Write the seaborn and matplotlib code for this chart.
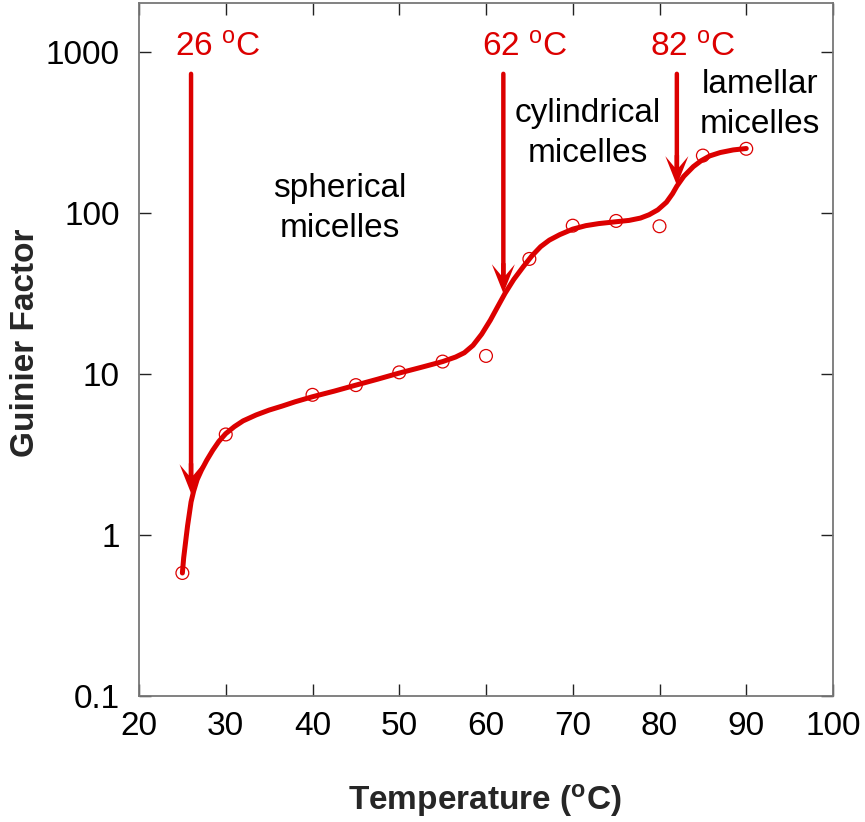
import matplotlib
matplotlib.use("Agg")
import matplotlib.pyplot as plt
import matplotlib.ticker as mticker
import matplotlib.transforms as mtransforms
from matplotlib.patches import FancyArrow
import seaborn as sns

# ---- data ----
temp_points = [25, 30, 40, 45, 50, 55, 60, 65, 70, 75, 80, 85, 90]
guinier_points = [0.58, 4.2, 7.4, 8.5, 10.2, 11.9, 12.9, 51.6, 83, 88.8, 82.3, 226, 249]

curve_temp = [25.0, 25.15, 25.3, 25.45, 25.6, 25.8, 26.0, 26.3, 26.7, 27.2, 27.8, 28.5,
              29.2, 30.0, 31.0, 32.0, 33.5, 35.0, 36.5, 38.0, 40.0, 42.5, 45.0, 47.5,
              50.0, 52.5, 55.0, 56.5, 57.5, 58.5, 59.5, 60.5, 61.3, 62.2, 63.2, 64.3,
              65.3, 66.3, 67.3, 68.5, 70.0, 71.5, 73.0, 75.0, 76.5, 77.8, 78.8, 79.8,
              80.8, 81.5, 82.0, 82.8, 83.9, 84.8, 85.8, 87.0, 88.5, 90.0]
curve_guinier = [0.58, 0.72, 0.84, 0.98, 1.14, 1.35, 1.6, 1.87, 2.2, 2.52, 2.9, 3.35,
                 3.8, 4.25, 4.7, 5.1, 5.55, 5.95, 6.3, 6.7, 7.2, 7.8, 8.5, 9.25,
                 10.1, 10.95, 11.9, 12.7, 13.5, 15.0, 17.6, 21.5, 25.8, 31.6, 38.5, 46.2,
                 54, 61.5, 67.5, 73, 79, 83, 85.5, 87.8, 89.5, 92.5, 97, 104,
                 116, 131, 146, 168, 193, 210, 225, 236, 245, 250]

transition_temps = [26, 62, 82]
transition_tips = [1.81, 31.6, 148]
transition_labels = ["26 $^{\\rm o}$C", "62 $^{\\rm o}$C", "82 $^{\\rm o}$C"]
label_x = [29.05, 64.46, 83.84]

x_ticks = [20, 30, 40, 50, 60, 70, 80, 90, 100]
y_ticks = [0.1, 1, 10, 100, 1000]
y_tick_labels = ["0.1", "1", "10", "100", "1000"]

phase_labels = [("spherical", "micelles"), ("cylindrical", "micelles"), ("lamellar", "micelles")]
phase_x = [43.2, 71.7, 91.6]
phase_y1 = [125.7, 367, 552]
phase_y2 = [70.9, 205.6, 311]

# ---- style ----
sns.set_theme(style="ticks")
plt.rcParams["font.family"] = ["Liberation Sans", "DejaVu Sans"]
plt.rcParams["mathtext.fontset"] = "custom"
plt.rcParams["mathtext.rm"] = "Liberation Sans"
plt.rcParams["mathtext.it"] = "Liberation Sans:italic"
plt.rcParams["mathtext.bf"] = "Liberation Sans:bold"

RED = "#DC0000"

fig = plt.figure(figsize=(8.65, 8.22), dpi=100)
ax = fig.add_axes([139 / 865, 126 / 822, 694 / 865, 693 / 822])

sns.lineplot(x=curve_temp, y=curve_guinier, sort=False, color=RED, linewidth=3.6,
             ax=ax, zorder=3)
sns.scatterplot(x=temp_points, y=guinier_points, marker="o", s=85,
                facecolor="none", edgecolor=RED, linewidth=0.9, ax=ax, zorder=4)

ax.set_yscale("log")
ax.set_xlim(20, 100)
ax.set_ylim(0.1, 2000)
ax.set_xticks(x_ticks)
ax.set_xticklabels([str(v) for v in x_ticks])
ax.set_yticks(y_ticks)
ax.set_yticklabels(y_tick_labels)
ax.yaxis.set_minor_locator(mticker.NullLocator())
ax.xaxis.set_minor_locator(mticker.NullLocator())

ax.tick_params(axis="both", which="major", direction="in", length=8.6, width=1.0,
               color="#222222", labelsize=24, top=True, right=True,
               labelcolor="black")
ax.tick_params(axis="y", pad=14)
ax.tick_params(axis="x", pad=11)
for sp in ax.spines.values():
    sp.set_color("#777777")
    sp.set_linewidth(1.3)
ax.set_xlabel("")
ax.set_ylabel("")

# arrows marking the transition temperatures
arrow_top = 727
for t, tip in zip(transition_temps, transition_tips):
    # shaft
    ax.annotate("", xy=(t, tip), xytext=(t, arrow_top),
                arrowprops=dict(arrowstyle="-", color=RED, lw=3.2,
                                shrinkA=0, shrinkB=12),
                zorder=5)
    # notched (swept-back) head anchored at the tip, sized in inches
    anchor = fig.dpi_scale_trans + mtransforms.ScaledTranslation(t, tip, ax.transData)
    head = FancyArrow(0, 0.30, 0, -0.30, width=0.045, head_width=0.23,
                      head_length=0.29, overhang=0.38, length_includes_head=True,
                      color=RED, lw=0, transform=anchor, zorder=5)
    ax.add_patch(head)

for lx, lab in zip(label_x, transition_labels):
    ax.text(lx, 927, lab, color=RED, fontsize=24, ha="center", va="baseline")

# phase labels
for (l1, l2), px, py1, py2 in zip(phase_labels, phase_x, phase_y1, phase_y2):
    ax.text(px, py1, l1, fontsize=24, ha="center", va="baseline", color="black")
    ax.text(px, py2, l2, fontsize=24, ha="center", va="baseline", color="black")

fig.text(26 / 865, 1 - 342.5 / 822, "Guinier Factor", rotation=90, fontsize=24,
         fontweight="bold", ha="center", va="center")
fig.text(485 / 865, 1 - 810 / 822, "Temperature ($^{\\mathbf{o}}$C)", fontsize=24,
         fontweight="bold", ha="center", va="baseline")

fig.savefig("out.png", dpi=100, facecolor="white")
